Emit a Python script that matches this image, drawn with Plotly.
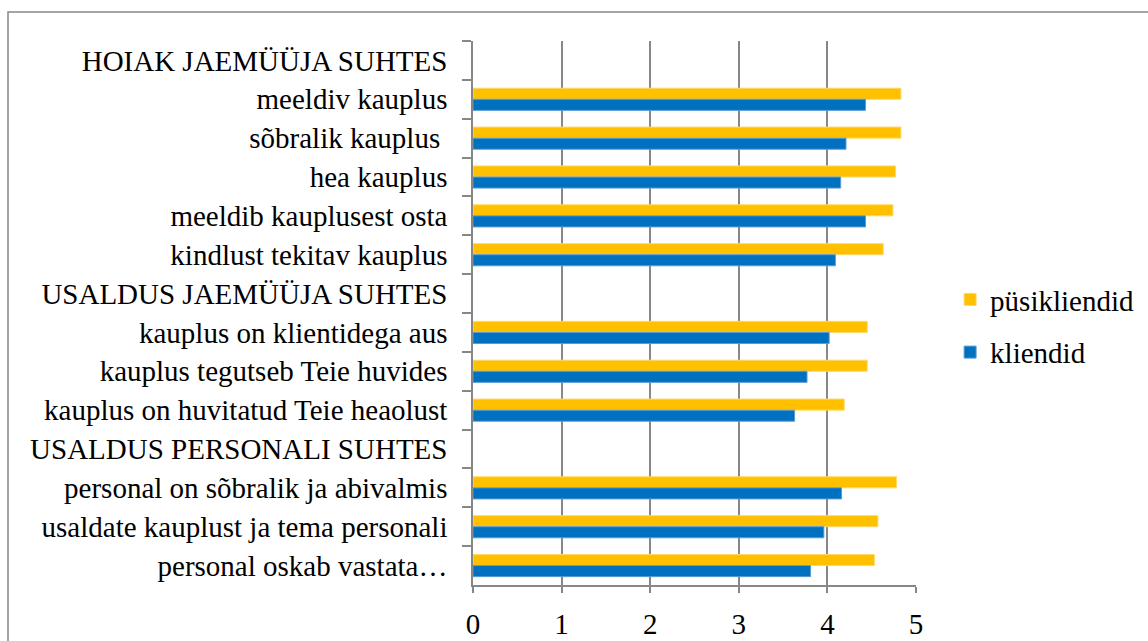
import plotly.graph_objects as go

categories = [
    "HOIAK JAEMÜÜJA SUHTES",
    "meeldiv kauplus",
    "sõbralik kauplus ",
    "hea kauplus",
    "meeldib kauplusest osta",
    "kindlust tekitav kauplus",
    "USALDUS JAEMÜÜJA SUHTES",
    "kauplus on klientidega aus",
    "kauplus tegutseb Teie huvides",
    "kauplus on huvitatud Teie heaolust",
    "USALDUS PERSONALI SUHTES",
    "personal on sõbralik ja abivalmis",
    "usaldate kauplust ja tema personali",
    "personal oskab vastata…",
]
pusikliendid = [None, 4.83, 4.83, 4.77, 4.74, 4.63, None, 4.45, 4.45, 4.19, None, 4.78, 4.57, 4.53]
kliendid = [None, 4.43, 4.21, 4.15, 4.43, 4.09, None, 4.02, 3.77, 3.63, None, 4.16, 3.96, 3.81]
x_ticks = [0, 1, 2, 3, 4, 5]

FONT = "Liberation Serif"
GRID = "#878787"

fig = go.Figure()
fig.add_trace(go.Bar(
    y=categories, x=pusikliendid, orientation="h", name="püsikliendid",
    legendgroup="a",
    marker=dict(color="#FFC000", line=dict(color="#FFD966", width=1)),
))
fig.add_trace(go.Bar(
    y=categories, x=kliendid, orientation="h", name="kliendid",
    legendgroup="b",
    marker=dict(color="#0070C0", line=dict(color="#5B9BD5", width=1)),
))

fig.update_layout(
    width=1148, height=641,
    margin=dict(l=473, r=232, t=41, b=56, autoexpand=False),
    paper_bgcolor="white", plot_bgcolor="white",
    barmode="group", bargap=0.43, bargroupgap=0,
    font=dict(family=FONT, size=29, color="black"),
    showlegend=True,
    legend=dict(x=1.077, xanchor="left", y=0.476, yanchor="middle",
                font=dict(family=FONT, size=29, color="black"),
                traceorder="grouped", itemwidth=30, tracegroupgap=12),
    xaxis=dict(range=[0, 5], tickvals=x_ticks, showgrid=True, gridcolor=GRID, gridwidth=1.5,
               showline=True, linecolor=GRID, linewidth=1.5, ticks="outside", ticklen=6,
               tickcolor=GRID, tickwidth=1.5, zeroline=False, ticklabelstandoff=6,
               tickfont=dict(family=FONT, size=29, color="black"), mirror=False),
    yaxis=dict(autorange="reversed", type="category", showgrid=False,
               showline=True, linecolor=GRID, linewidth=1.5, ticks="outside", ticklen=9,
               tickcolor=GRID, tickwidth=1.5, tickson="boundaries", ticklabelstandoff=18,
               tickfont=dict(family=FONT, size=29, color="black")),
    shapes=[dict(type="rect", xref="paper", yref="paper",
                 x0=(8 - 473) / 443, x1=(1152 - 473) / 443,
                 y0=(585 - 645) / 544, y1=(585 - 12) / 544,
                 line=dict(color=GRID, width=1.5), fillcolor="rgba(0,0,0,0)", layer="below")],
)

fig.write_html(
    "out.html",
    config={"displayModeBar": False},
    post_script="document.body.style.margin='0';document.body.style.overflow='hidden';",
)
